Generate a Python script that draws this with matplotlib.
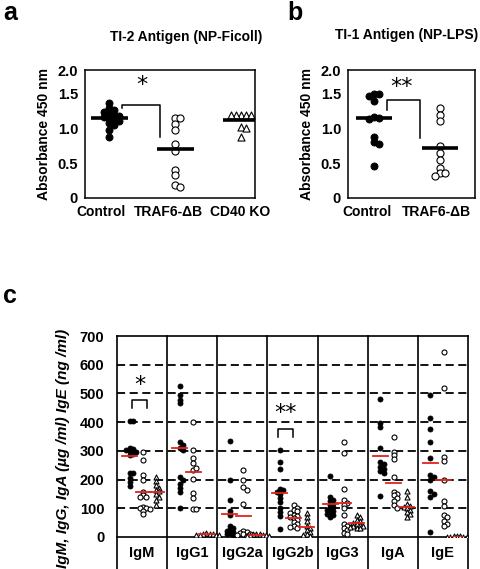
import numpy as np
import matplotlib.pyplot as plt

plt.rcParams['font.family'] = ['Liberation Sans', 'DejaVu Sans']
plt.rcParams['font.weight'] = 'bold'
plt.rcParams['axes.labelweight'] = 'bold'

W, H = 481, 569

# ---- panel a : TI-2 antigen ----
a_groups = ['Control', 'TRAF6-ΔB', 'CD40 KO']
a_control = [1.36, 1.29, 1.27, 1.24, 1.22, 1.20, 1.18, 1.16, 1.15, 1.13, 1.10, 1.08, 1.05, 0.98, 0.87]
a_traf6 = [1.15, 1.15, 1.06, 0.98, 0.78, 0.67, 0.40, 0.33, 0.19, 0.16]
a_cd40 = [1.20, 1.20, 1.20, 1.20, 1.20, 1.02, 1.00, 0.88]
a_means = [1.15, 0.70, 1.12]

# ---- panel b : TI-1 antigen ----
b_groups = ['Control', 'TRAF6-ΔB']
b_control = [1.50, 1.49, 1.46, 1.39, 1.17, 1.15, 1.13, 0.88, 0.80, 0.78, 0.46]
b_traf6 = [1.29, 1.20, 1.10, 0.75, 0.64, 0.55, 0.43, 0.36, 0.36, 0.31]
b_means = [1.15, 0.72]

# ---- panel c : serum Ig ----
c_isotypes = ['IgM', 'IgG1', 'IgG2a', 'IgG2b', 'IgG3', 'IgA', 'IgE']
c_control = [
    [405, 405, 310, 305, 302, 298, 295, 290, 285, 222, 222, 205, 190, 178],
    [525, 495, 478, 467, 332, 322, 310, 303, 210, 200, 185, 170, 157, 100],
    [335, 200, 130, 90, 75, 40, 32, 28, 22, 18, 14, 10, 6],
    [303, 262, 237, 168, 163, 158, 150, 136, 122, 100, 88, 73, 28],
    [214, 140, 130, 125, 118, 112, 105, 100, 95, 90, 85, 80, 75, 70],
    [480, 398, 384, 310, 262, 255, 245, 238, 230, 222, 143],
    [495, 416, 376, 332, 276, 215, 210, 200, 160, 150, 140, 17],
]
c_traf6 = [
    [297, 268, 216, 198, 158, 146, 140, 139, 104, 101, 100, 98, 91, 80],
    [400, 303, 275, 257, 235, 240, 202, 153, 136, 98, 96],
    [232, 198, 175, 165, 115, 22, 18, 15, 12, 10, 8, 5],
    [110, 102, 95, 90, 85, 78, 72, 68, 65, 60, 52, 45, 40, 35, 30],
    [332, 294, 167, 130, 120, 112, 100, 78, 45, 40, 30, 25, 15, 12],
    [350, 297, 285, 272, 210, 158, 150, 145, 135, 125, 112, 102],
    [645, 519, 280, 266, 200, 125, 108, 75, 68, 55, 45, 40],
]
c_cd40 = [
    [210, 195, 180, 172, 165, 160, 150, 140, 130, 112],
    [15, 12, 10, 9, 8, 8, 7, 6],
    [12, 10, 9, 8, 7, 6, 5, 4],
    [85, 68, 55, 40, 32, 25, 18, 12, 8, 5],
    [78, 68, 60, 55, 50, 45, 42, 40, 38, 35, 32, 30],
    [160, 138, 115, 108, 105, 100, 95, 88, 80, 70],
    [3, 2, 2, 1, 1, 1, 0, 0],
]
c_mean_control = [282, 311, 80, 153, 115, 282, 257]
c_mean_traf6 = [156, 228, 73, 67, 118, 189, 199]
c_mean_cd40 = [156, 10, 8, 36, 49, 106, 1]

RED = '#e3211c'


def swarm(vals, dy, dx):
    # small side-by-side offsets for points that would sit on top of each other
    placed = []
    offs = []
    for v in vals:
        for k in range(30):
            off = ((k + 1) // 2) * dx * (1 if k % 2 else -1)
            if all(abs(v - pv) >= dy or abs(off - po) >= dx * 0.99 for pv, po in placed):
                break
        placed.append((v, off))
        offs.append(off)
    return np.array(offs)


def rect(l, t, r, b):
    return [l / W, 1 - b / H, (r - l) / W, (b - t) / H]


fig = plt.figure(figsize=(W / 100, H / 100), dpi=100)

styles = {
    'dot': dict(marker='o', facecolor='black', edgecolor='black', linewidths=0.6),
    'circ': dict(marker='o', facecolor='white', edgecolor='black', linewidths=0.8),
    'tri': dict(marker='^', facecolor='white', edgecolor='black', linewidths=0.8),
}


def absorbance_axes(ax, groups, data, kinds, means, xlim, label_shift):
    for i, (vals, kind) in enumerate(zip(data, kinds)):
        x = i + 1 + swarm(vals, 0.065, 0.075)
        ax.scatter(x, vals, s=26, zorder=3, **styles[kind])
        ax.plot([i + 1 - 0.28, i + 1 + 0.28], [means[i]] * 2, color='black', lw=2.6, zorder=4,
                solid_capstyle='butt')
    ax.set_xlim(*xlim)
    ax.set_ylim(0, 1.84)
    ax.set_yticks([0, 0.5, 1.0, 1.5, 1.84])
    ax.set_yticklabels(['0', '0.5', '1.0', '1.5', '2.0'], fontsize=10.5)
    ax.set_xticks(np.arange(1, len(groups) + 1) + np.array(label_shift))
    ax.set_xticklabels(groups, fontsize=10)
    ax.tick_params(length=0, pad=5)
    ax.set_ylabel('Absorbance 450 nm', fontsize=10, labelpad=5)
    for s in ax.spines.values():
        s.set_linewidth(1.1)


# panel a
ax_a = fig.add_axes(rect(85, 70, 255, 198))
absorbance_axes(ax_a, a_groups, [a_control, a_traf6, a_cd40], ['dot', 'circ', 'tri'],
                a_means, (0.636, 3.21), [-0.12, -0.1, -0.02])
ax_a.plot([1.2, 1.2, 1.77, 1.77], [1.29, 1.34, 1.34, 0.88], color='black', lw=1.1)
ax_a.text(1.5, 1.63, '*', ha='center', va='center', fontsize=16, fontweight='normal',
          family='DejaVu Sans')

# panel b
ax_b = fig.add_axes(rect(348, 70, 475, 198))
absorbance_axes(ax_b, b_groups, [b_control, b_traf6], ['dot', 'circ'], b_means, (0.606, 2.53),
                [-0.1, -0.05])
ax_b.plot([1.2, 1.2, 1.7, 1.7], [1.27, 1.41, 1.41, 0.86], color='black', lw=1.1)
ax_b.text(1.42, 1.6, '**', ha='center', va='center', fontsize=16, fontweight='normal',
          family='DejaVu Sans')

fig.text(186 / W, 1 - 37 / H, 'TI-2 Antigen (NP-Ficoll)', ha='center', va='center', fontsize=10)
fig.text(407 / W, 1 - 35 / H, 'TI-1 Antigen (NP-LPS)', ha='center', va='center', fontsize=10)
fig.text(3 / W, 1 - 20 / H, 'a', fontsize=18, va='baseline')
fig.text(287 / W, 1 - 20 / H, 'b', fontsize=18, va='baseline')
fig.text(3 / W, 1 - 303 / H, 'c', fontsize=18, va='baseline')

# panel c
ax_c = fig.add_axes(rect(117, 336, 468, 537))
offsets = [0.25, 0.52, 0.78]
for i in range(len(c_isotypes)):
    for grp, kind, means, off in zip([c_control, c_traf6, c_cd40], ['dot', 'circ', 'tri'],
                                     [c_mean_control, c_mean_traf6, c_mean_cd40], offsets):
        vals = grp[i]
        x = i + off + swarm(vals, 11, 0.065)
        ax_c.scatter(x, vals, s=13, zorder=3, **styles[kind])
        ax_c.plot([i + off - 0.15, i + off + 0.15], [means[i]] * 2, color=RED, lw=1.3, zorder=4)

for yv in range(100, 700, 100):
    ax_c.axhline(yv, color='black', lw=1.3, dashes=(4.5, 2.5), zorder=1)
for xv in range(0, 8):
    ax_c.plot([xv, xv], [-112, 700], color='black', lw=1.2, clip_on=False, zorder=2)

# significance brackets
ax_c.plot([0.3, 0.3, 0.6, 0.6], [449, 477, 477, 449], color='black', lw=1.1)
ax_c.text(0.46, 528, '*', ha='center', va='center', fontsize=16, fontweight='normal',
          family='DejaVu Sans')
ax_c.plot([3.21, 3.21, 3.51, 3.51], [348, 376, 376, 348], color='black', lw=1.1)
ax_c.text(3.36, 432, '**', ha='center', va='center', fontsize=16, fontweight='normal',
          family='DejaVu Sans')

ax_c.set_xlim(0, 7)
ax_c.set_ylim(0, 700)
ax_c.set_yticks(range(0, 800, 100))
ax_c.tick_params(axis='y', labelsize=10.5, length=0, pad=9)
ax_c.set_xticks([])
for i, name in enumerate(c_isotypes):
    ax_c.text(i + 0.5, -56, name, ha='center', va='center', fontsize=10.5)
ax_c.spines['left'].set_visible(False)
ax_c.spines['right'].set_visible(False)
ax_c.spines['top'].set_linewidth(1.2)
ax_c.spines['bottom'].set_linewidth(1.2)
ax_c.set_ylabel('IgM, IgG, IgA (µg /ml) IgE (ng /ml)', fontsize=11, fontstyle='italic')
ax_c.yaxis.set_label_coords(-0.134, 0.44)

plt.savefig('out.png', dpi=100)
